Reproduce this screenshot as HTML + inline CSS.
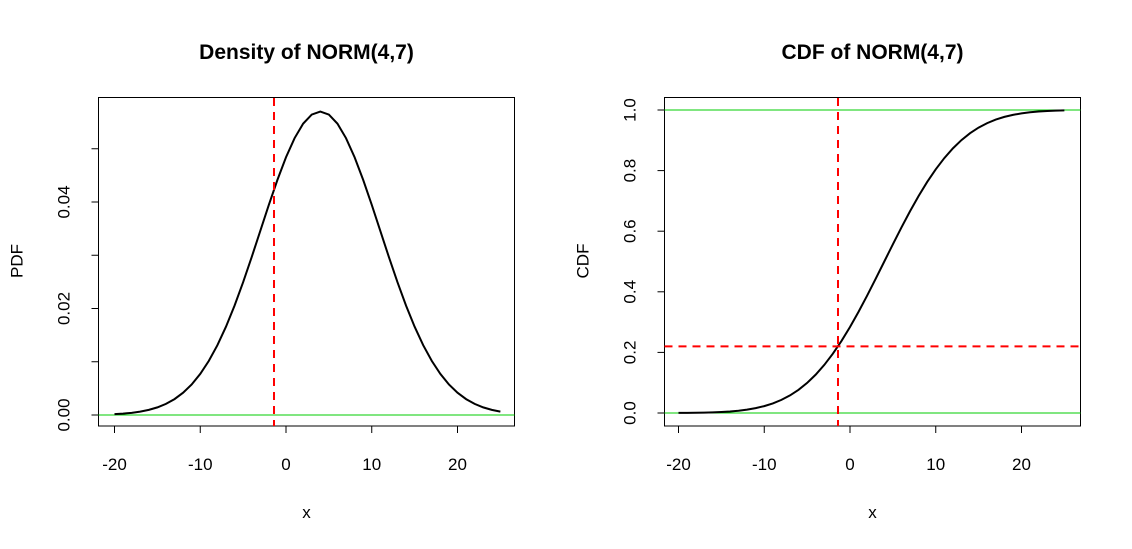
<!DOCTYPE html>
<html><head><meta charset="utf-8"><style>
html,body{margin:0;padding:0;background:#fff;}
svg{display:block;font-family:"Liberation Sans",Arial,sans-serif;}
</style></head><body>
<svg id="c" width="1132" height="549" viewBox="0 0 1132 549"></svg>
<script>
const xs = [];
for (let v=-20; v<=25; v++) xs.push(v);
const pdfVals = [0.000160,0.000258,0.000408,0.000633,0.000962,0.001432,0.002090,0.002986,0.004183,0.005737,0.007713,0.010161,0.013111,0.016579,0.020542,0.024938,0.029660,0.034567,0.039469,0.044156,0.048405,0.051990,0.054711,0.056413,0.056991,0.056413,0.054711,0.051990,0.048405,0.044156,0.039469,0.034567,0.029660,0.024938,0.020542,0.016579,0.013111,0.010161,0.007713,0.005737,0.004183,0.002986,0.002090,0.001432,0.000962,0.000633];
const cdfVals = [0.000303,0.000508,0.000836,0.00135,0.00214,0.00332,0.00507,0.00758,0.01114,0.01606,0.02275,0.03165,0.04324,0.05804,0.07656,0.09927,0.12655,0.15866,0.19572,0.23753,0.28385,0.33412,0.38757,0.44320,0.5,0.55680,0.61243,0.66588,0.71615,0.76247,0.80428,0.84134,0.87345,0.90073,0.92344,0.94196,0.95676,0.96835,0.97725,0.98394,0.98886,0.99242,0.99493,0.99668,0.99786,0.99865];
const xTicks = [-20,-10,0,10,20];
const pdfTicks = [0,0.01,0.02,0.03,0.04,0.05];
const pdfTickLabels = ["0.00","","0.02","","0.04",""];
const cdfTicks = [0,0.2,0.4,0.6,0.8,1.0];
const cdfTickLabels = ["0.0","0.2","0.4","0.6","0.8","1.0"];
const qX = [-1.4];
const qP = [0.22];

const svg = document.getElementById('c');
const NS = 'http://www.w3.org/2000/svg';
const GREEN = '#00cc00';
function mk(tag, attrs, parent){const e=document.createElementNS(NS,tag);for(const k in attrs)e.setAttribute(k,attrs[k]);(parent||svg).appendChild(e);return e;}

function panel(opt){
  const g = mk('g',{});
  
  
  const X = v => opt.x0 + v*8.575;
  const Y = v => opt.y0 - v*opt.ys;
  const box = mk('rect',{x:opt.bx,y:97.5,width:416,height:328.5,fill:'none',stroke:'#000','stroke-width':1},g);
   
  const t = mk('text',{x:opt.bx+208,y:59,'text-anchor':'middle','font-size':'21','font-weight':'bold'},g);
  t.textContent = opt.title;
   
  const xa = mk('g',{},g);
   
  mk('line',{x1:X(xTicks[0]),x2:X(xTicks[xTicks.length-1]),y1:426,y2:426,stroke:'#000'},xa);
  xTicks.forEach(v=>{
    mk('line',{x1:X(v),x2:X(v),y1:426,y2:433,stroke:'#000'},xa);
    const l = mk('text',{x:X(v),y:470,'text-anchor':'middle','font-size':'17'},xa);
    l.textContent = v;
     
  });
  const xl = mk('text',{x:opt.bx+208,y:518,'text-anchor':'middle','font-size':'17'},g);
  xl.textContent='x';
   
  const ya = mk('g',{},g);
   
  mk('line',{x1:opt.bx,x2:opt.bx,y1:Y(opt.yt[0]),y2:Y(opt.yt[opt.yt.length-1]),stroke:'#000'},ya);
  opt.yt.forEach((v,i)=>{
    mk('line',{x1:opt.bx-7,x2:opt.bx,y1:Y(v),y2:Y(v),stroke:'#000'},ya);
    if(opt.yl[i]){
      const l = mk('text',{x:0,y:0,'text-anchor':'middle','font-size':'17',transform:`translate(${opt.bx-29},${Y(v)}) rotate(-90)`},ya);
      l.textContent = opt.yl[i];
       
    }
  });
  const yl = mk('text',{x:0,y:0,'text-anchor':'middle','font-size':'17',transform:`translate(${opt.bx-76},261) rotate(-90)`},g);
  yl.textContent = opt.ylab;
   
  return {g,X,Y};
}

const L = panel({name:'pdf-panel',bx:98.5,x0:286,y0:415,ys:5325,title:'Density of NORM(4,7)',yt:pdfTicks,yl:pdfTickLabels,ylab:'PDF'});
const gz = mk('line',{x1:98.5,x2:514.5,y1:L.Y(0),y2:L.Y(0),stroke:GREEN,'stroke-width':1},L.g);
 
const pp = mk('polyline',{points:xs.map((v,i)=>L.X(v)+','+L.Y(pdfVals[i])).join(' '),fill:'none',stroke:'#000','stroke-width':2},L.g);
 
const rv = mk('line',{x1:L.X(qX[0]),x2:L.X(qX[0]),y1:98,y2:426,stroke:'#ff0000','stroke-width':2,'stroke-dasharray':'8,6'},L.g);
 

const R = panel({name:'cdf-panel',bx:664.5,x0:850,y0:413,ys:303,title:'CDF of NORM(4,7)',yt:cdfTicks,yl:cdfTickLabels,ylab:'CDF'});
[0,1].forEach(v=>{
  const l = mk('line',{x1:664.5,x2:1080.5,y1:R.Y(v),y2:R.Y(v),stroke:GREEN,'stroke-width':1},R.g);
   
});
const cp = mk('polyline',{points:xs.map((v,i)=>R.X(v)+','+R.Y(cdfVals[i])).join(' '),fill:'none',stroke:'#000','stroke-width':2},R.g);
 
const rv2 = mk('line',{x1:R.X(qX[0]),x2:R.X(qX[0]),y1:98,y2:426,stroke:'#ff0000','stroke-width':2,'stroke-dasharray':'8,6'},R.g);
 
const rh = mk('line',{x1:664.5,x2:1080.5,y1:R.Y(qP[0]),y2:R.Y(qP[0]),stroke:'#ff0000','stroke-width':2,'stroke-dasharray':'8,6'},R.g);
 
</script>
</body></html>
